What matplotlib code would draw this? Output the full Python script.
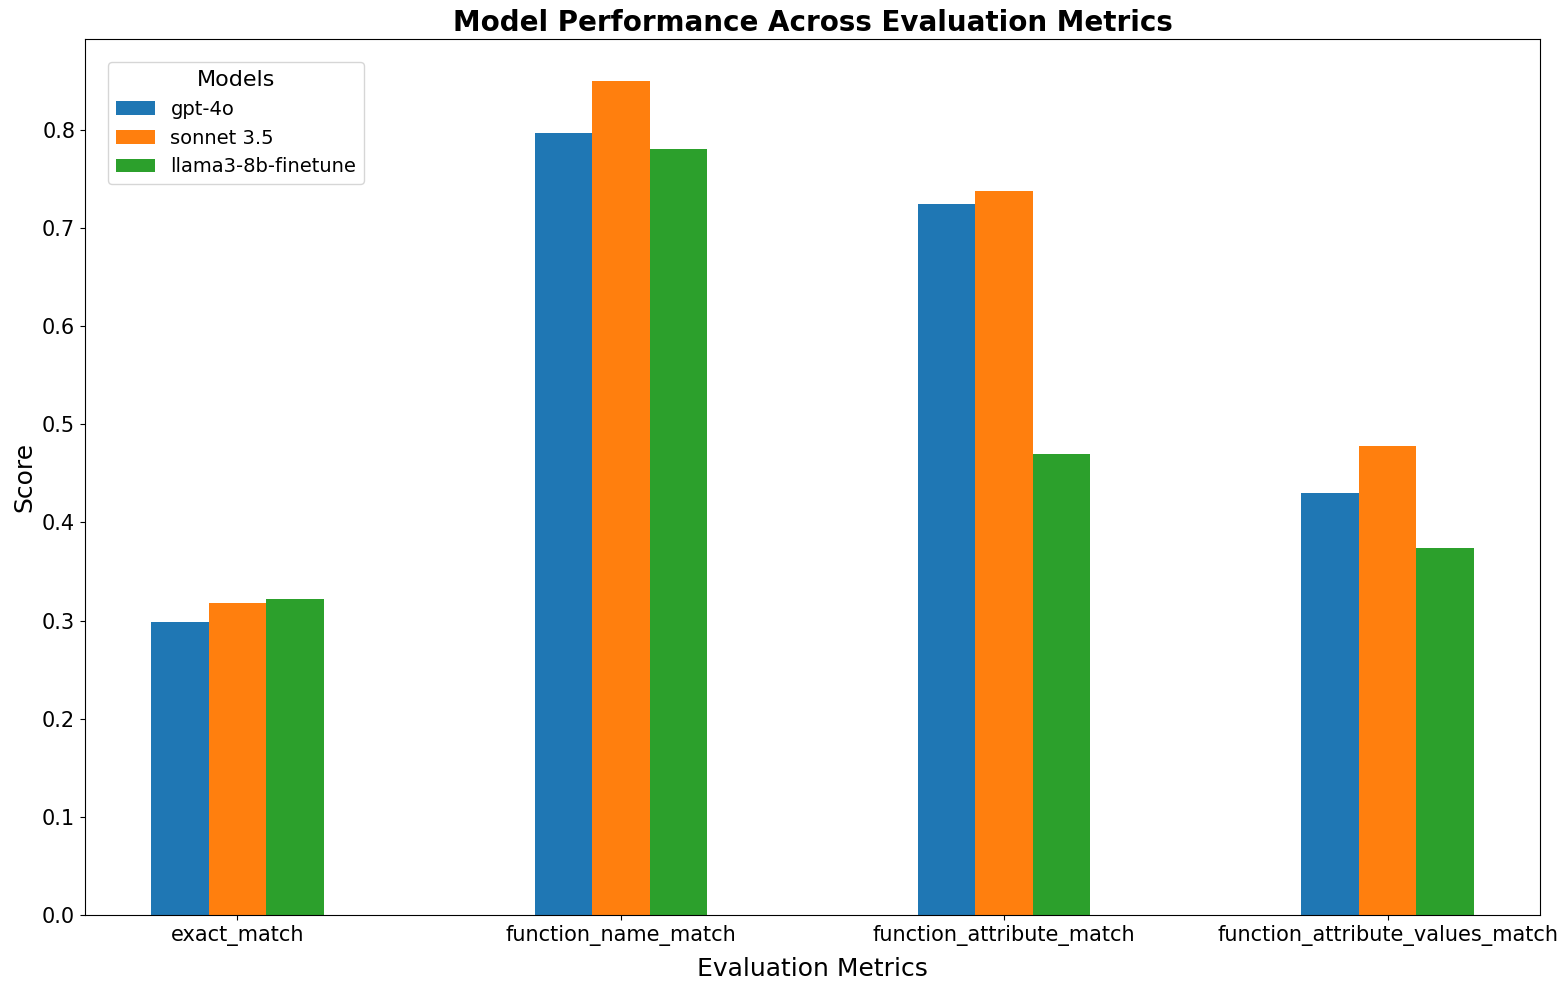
import numpy as np
import matplotlib
matplotlib.use("Agg")
import matplotlib.pyplot as plt

metrics = ["exact_match", "function_name_match", "function_attribute_match",
           "function_attribute_values_match"]
models = ["gpt-4o", "sonnet 3.5", "llama3-8b-finetune"]
gpt4o = [0.299, 0.797, 0.724, 0.430]
sonnet = [0.318, 0.850, 0.738, 0.478]
llama = [0.322, 0.780, 0.470, 0.374]

fig = plt.figure(figsize=(15.67, 9.89), dpi=100)
ax = fig.add_axes([0.0542, 0.0748, 0.9286, 0.8858])

x = np.arange(len(metrics))
w = 0.15
for i, (vals, lab) in enumerate(zip([gpt4o, sonnet, llama], models)):
    ax.bar(x + (i - 1) * w, vals, w, label=lab)

ax.set_xticks(x)
ax.set_xticklabels(metrics, fontsize=15)
ax.tick_params(axis="y", labelsize=15)
ax.set_xlabel("Evaluation Metrics", fontsize=18, labelpad=8)
ax.set_ylabel("Score", fontsize=18)
ax.set_title("Model Performance Across Evaluation Metrics", fontsize=20, fontweight="bold")
ax.legend(title="Models", fontsize=14, title_fontsize=16, loc="upper left",
          borderaxespad=1.2)

fig.savefig("out.png", dpi=100)
